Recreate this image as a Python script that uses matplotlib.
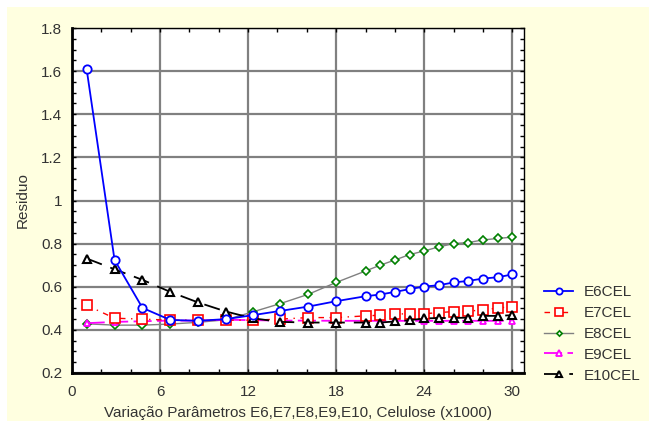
import matplotlib.pyplot as plt
from matplotlib.patches import Rectangle
from matplotlib.ticker import MultipleLocator

# x positions of the runs (x1000)
x = [1, 2.9, 4.8, 6.7, 8.6, 10.5, 12.3, 14.2, 16.1, 18,
     20, 21, 22, 23, 24, 25, 26, 27, 28, 29, 30]

e6 = [1.608, 0.724, 0.502, 0.446, 0.442, 0.450, 0.468, 0.488, 0.508, 0.533,
      0.556, 0.564, 0.576, 0.589, 0.601, 0.607, 0.620, 0.627, 0.638, 0.644, 0.657]
e7 = [0.514, 0.454, 0.450, 0.445, 0.445, 0.445, 0.445, 0.450, 0.457, 0.457,
      0.465, 0.468, 0.473, 0.475, 0.475, 0.480, 0.485, 0.488, 0.491, 0.502, 0.507]
e8 = [0.428, 0.422, 0.422, 0.427, 0.435, 0.447, 0.483, 0.522, 0.565, 0.620,
      0.673, 0.700, 0.724, 0.749, 0.766, 0.785, 0.800, 0.805, 0.817, 0.824, 0.830]
e9 = [0.431, 0.437, 0.440, 0.443, 0.443, 0.447, 0.445, 0.443, 0.443, 0.442,
      0.442, 0.442, 0.442, 0.442, 0.442, 0.442, 0.442, 0.442, 0.442, 0.442, 0.442]
e10 = [0.731, 0.681, 0.632, 0.576, 0.527, 0.485, 0.454, 0.437, 0.434, 0.434,
       0.434, 0.434, 0.439, 0.445, 0.453, 0.455, 0.455, 0.457, 0.465, 0.465, 0.468]

plt.rcParams["font.family"] = ["Liberation Sans", "DejaVu Sans"]

fig = plt.figure(figsize=(6.49, 4.21), dpi=100)
fig.patch.set_facecolor("white")
fig.patches.append(Rectangle((7 / 649, 0), 1, 414 / 421, transform=fig.transFigure,
                             facecolor="#FFFFE0", edgecolor="none", zorder=-10))

ax = fig.add_axes([72 / 649, 1 - 373 / 421, (524 - 72) / 649, (373 - 28) / 421])
ax.set_facecolor("white")

ax.plot(x, e8, color="#808080", lw=1.0, marker="D", ms=3.6, mfc="white",
        mec="#008000", mew=1.2, label="E8CEL", zorder=3)
ax.plot(x, e9, color="#FF00FF", lw=1.3, ls=(0, (10, 3)), marker="^", ms=5,
        mfc="white", mec="#FF00FF", mew=1.3, label="E9CEL", zorder=3)
ax.plot(x, e7, color="#FF0000", lw=1.0, ls=(0, (4, 4, 1, 4)), marker="s", ms=7,
        mfc="white", mec="#FF0000", mew=1.2, label="E7CEL", zorder=4)
ax.plot(x, e10, color="black", lw=1.3, ls=(0, (9, 5)), marker="^", ms=5.5,
        mfc="white", mec="black", mew=1.5, label="E10CEL", zorder=5)
ax.plot(x, e6, color="#0000FF", lw=1.3, marker="o", ms=6, mfc="white",
        mec="#0000FF", mew=1.3, label="E6CEL", zorder=6)

ax.set_xlim(0, 30.8)
ax.set_ylim(0.2, 1.8)
ax.xaxis.set_major_locator(MultipleLocator(6))
ax.xaxis.set_minor_locator(MultipleLocator(2))
ax.yaxis.set_major_locator(MultipleLocator(0.2))
ax.yaxis.set_minor_locator(MultipleLocator(0.05))
ax.yaxis.set_major_formatter(plt.FuncFormatter(lambda v, p: f"{v:g}"))
ax.grid(True, which="major", color="#808080", lw=1.6, zorder=1)
ax.tick_params(which="both", direction="in", top=True, right=True,
               labelsize=11, colors="black", labelcolor="#333333")
ax.tick_params(axis="x", pad=9)
ax.tick_params(axis="y", pad=7)
ax.tick_params(which="major", length=3, width=1)
ax.tick_params(which="minor", length=3, width=1)
for s in ["left", "bottom"]:
    ax.spines[s].set_linewidth(2)
for s in ["top", "right"]:
    ax.spines[s].set_linewidth(1)

ax.set_xlabel("Variação Parâmetros E6,E7,E8,E9,E10, Celulose (x1000)",
              fontsize=11, color="#333333", labelpad=5)
ax.set_ylabel("Residuo", fontsize=11, color="#333333", labelpad=8)

handles, labels = ax.get_legend_handles_labels()
order = [labels.index(n) for n in ["E6CEL", "E7CEL", "E8CEL", "E9CEL", "E10CEL"]]
leg = fig.legend([handles[i] for i in order], [labels[i] for i in order],
                 loc="upper left", bbox_to_anchor=(538 / 649, 1 - 279 / 421),
                 frameon=False, fontsize=11, handlelength=1.9, handletextpad=0.7,
                 labelspacing=0.45, markerscale=0.75, borderaxespad=0)
for t in leg.get_texts():
    t.set_color("#333333")

fig.savefig("out.png", dpi=100, facecolor=fig.get_facecolor())
